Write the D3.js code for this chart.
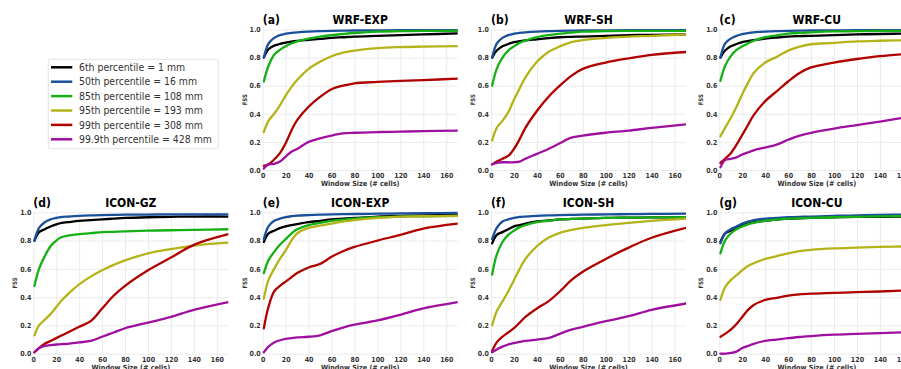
<!DOCTYPE html>
<html>
<head>
<meta charset="utf-8">
<script src="https://cdn.jsdelivr.net/npm/d3@7"></script>
<style>
  body { margin: 0; background: #fff; }
  text { font-family: "DejaVu Sans Condensed", "DejaVu Sans", sans-serif; }
</style>
</head>
<body>
<div id="chart"></div>
<script>
var windowSizes = [1, 5, 10, 15, 20, 25, 30, 40, 50, 60, 70, 80, 100, 120, 140, 170];

var percentileLabels = [
  "6th percentile = 1 mm",
  "50th percentile = 16 mm",
  "85th percentile = 108 mm",
  "95th percentile = 193 mm",
  "99th percentile = 308 mm",
  "99.9th percentile = 428 mm"
];
var lineColors = ["#000000", "#1a4f9a", "#14b014", "#b4b41a", "#b00000", "#a010a0"];

var xTicks = [0, 20, 40, 60, 80, 100, 120, 140, 160];
var yTicks = [0, 0.2, 0.4, 0.6, 0.8, 1.0];

// each model: six series, same order as the legend
var wrfExp = [
  [0.80, 0.86, 0.885, 0.897, 0.907, 0.914, 0.919, 0.926, 0.933, 0.94, 0.945, 0.95, 0.955, 0.96, 0.965, 0.972],
  [0.80, 0.90, 0.94, 0.96, 0.97, 0.976, 0.98, 0.985, 0.988, 0.99, 0.992, 0.993, 0.994, 0.995, 0.995, 0.995],
  [0.63, 0.74, 0.82, 0.855, 0.88, 0.90, 0.915, 0.935, 0.95, 0.96, 0.968, 0.975, 0.985, 0.988, 0.99, 0.99],
  [0.27, 0.35, 0.40, 0.46, 0.53, 0.59, 0.64, 0.72, 0.77, 0.81, 0.835, 0.85, 0.868, 0.875, 0.878, 0.882],
  [0.03, 0.04, 0.075, 0.12, 0.19, 0.28, 0.355, 0.45, 0.52, 0.575, 0.60, 0.617, 0.627, 0.635, 0.64, 0.65],
  [0.01, 0.04, 0.043, 0.06, 0.095, 0.13, 0.15, 0.20, 0.225, 0.245, 0.26, 0.265, 0.27, 0.273, 0.276, 0.28]
];
var wrfSh = [
  [0.80, 0.85, 0.88, 0.897, 0.91, 0.917, 0.922, 0.93, 0.938, 0.945, 0.948, 0.95, 0.955, 0.96, 0.962, 0.965],
  [0.80, 0.90, 0.94, 0.96, 0.97, 0.976, 0.98, 0.985, 0.988, 0.99, 0.992, 0.993, 0.994, 0.995, 0.995, 0.995],
  [0.60, 0.72, 0.80, 0.85, 0.88, 0.905, 0.92, 0.945, 0.96, 0.97, 0.978, 0.985, 0.988, 0.99, 0.99, 0.99],
  [0.21, 0.30, 0.35, 0.41, 0.50, 0.58, 0.66, 0.77, 0.84, 0.88, 0.91, 0.925, 0.94, 0.95, 0.955, 0.965],
  [0.04, 0.06, 0.08, 0.10, 0.15, 0.22, 0.30, 0.42, 0.52, 0.60, 0.67, 0.72, 0.765, 0.795, 0.82, 0.84],
  [0.04, 0.05, 0.055, 0.055, 0.055, 0.06, 0.08, 0.115, 0.15, 0.19, 0.23, 0.245, 0.265, 0.28, 0.30, 0.325]
];
var wrfCu = [
  [0.80, 0.85, 0.88, 0.897, 0.91, 0.918, 0.924, 0.935, 0.943, 0.95, 0.953, 0.955, 0.96, 0.965, 0.968, 0.972],
  [0.80, 0.90, 0.935, 0.955, 0.967, 0.975, 0.98, 0.985, 0.988, 0.99, 0.992, 0.993, 0.994, 0.995, 0.995, 0.995],
  [0.635, 0.74, 0.81, 0.855, 0.88, 0.90, 0.92, 0.945, 0.958, 0.97, 0.976, 0.98, 0.986, 0.988, 0.99, 0.99],
  [0.24, 0.30, 0.37, 0.45, 0.54, 0.62, 0.69, 0.765, 0.805, 0.85, 0.878, 0.895, 0.905, 0.915, 0.92, 0.925],
  [0.05, 0.08, 0.12, 0.18, 0.25, 0.32, 0.39, 0.49, 0.56, 0.63, 0.69, 0.73, 0.765, 0.79, 0.81, 0.83],
  [0.02, 0.07, 0.08, 0.09, 0.11, 0.125, 0.14, 0.16, 0.18, 0.215, 0.245, 0.265, 0.295, 0.32, 0.345, 0.385]
];
var iconGz = [
  [0.80, 0.86, 0.88, 0.90, 0.915, 0.925, 0.93, 0.94, 0.945, 0.95, 0.955, 0.96, 0.965, 0.968, 0.97, 0.97],
  [0.80, 0.89, 0.93, 0.95, 0.96, 0.967, 0.97, 0.975, 0.978, 0.98, 0.982, 0.983, 0.984, 0.985, 0.985, 0.985],
  [0.48, 0.60, 0.69, 0.76, 0.80, 0.825, 0.835, 0.845, 0.852, 0.86, 0.862, 0.865, 0.87, 0.873, 0.875, 0.88],
  [0.13, 0.20, 0.24, 0.28, 0.33, 0.38, 0.42, 0.49, 0.545, 0.59, 0.628, 0.66, 0.71, 0.74, 0.765, 0.785],
  [0.01, 0.04, 0.07, 0.09, 0.11, 0.13, 0.15, 0.19, 0.23, 0.32, 0.41, 0.48, 0.59, 0.68, 0.77, 0.845],
  [0.01, 0.04, 0.055, 0.06, 0.065, 0.068, 0.07, 0.08, 0.09, 0.12, 0.15, 0.18, 0.22, 0.26, 0.31, 0.365]
];
var iconExp = [
  [0.79, 0.85, 0.87, 0.888, 0.90, 0.91, 0.917, 0.93, 0.94, 0.95, 0.955, 0.96, 0.97, 0.975, 0.978, 0.98],
  [0.81, 0.90, 0.94, 0.955, 0.965, 0.972, 0.977, 0.98, 0.983, 0.985, 0.987, 0.988, 0.99, 0.992, 0.994, 0.995],
  [0.57, 0.66, 0.72, 0.77, 0.81, 0.85, 0.88, 0.91, 0.925, 0.94, 0.948, 0.955, 0.965, 0.97, 0.972, 0.975],
  [0.39, 0.52, 0.60, 0.67, 0.73, 0.80, 0.85, 0.89, 0.905, 0.92, 0.935, 0.945, 0.96, 0.97, 0.972, 0.975],
  [0.18, 0.33, 0.44, 0.48, 0.51, 0.54, 0.57, 0.61, 0.635, 0.685, 0.725, 0.755, 0.80, 0.84, 0.885, 0.92],
  [0.01, 0.05, 0.08, 0.095, 0.105, 0.11, 0.115, 0.12, 0.13, 0.16, 0.185, 0.205, 0.235, 0.275, 0.32, 0.365]
];
var iconSh = [
  [0.78, 0.84, 0.86, 0.88, 0.90, 0.91, 0.92, 0.935, 0.942, 0.95, 0.953, 0.955, 0.96, 0.962, 0.964, 0.965],
  [0.81, 0.89, 0.935, 0.95, 0.96, 0.967, 0.97, 0.975, 0.978, 0.98, 0.982, 0.983, 0.985, 0.987, 0.989, 0.99],
  [0.56, 0.70, 0.79, 0.84, 0.87, 0.895, 0.91, 0.93, 0.94, 0.95, 0.953, 0.955, 0.96, 0.962, 0.964, 0.965],
  [0.20, 0.30, 0.37, 0.44, 0.52, 0.60, 0.67, 0.76, 0.82, 0.855, 0.875, 0.89, 0.91, 0.925, 0.94, 0.955],
  [0.02, 0.08, 0.12, 0.15, 0.18, 0.22, 0.26, 0.32, 0.37, 0.44, 0.52, 0.58, 0.67, 0.75, 0.82, 0.89],
  [0.01, 0.03, 0.05, 0.065, 0.075, 0.083, 0.09, 0.10, 0.11, 0.14, 0.17, 0.19, 0.23, 0.265, 0.31, 0.355]
];
var iconCu = [
  [0.79, 0.85, 0.87, 0.89, 0.91, 0.92, 0.93, 0.94, 0.948, 0.955, 0.958, 0.96, 0.965, 0.967, 0.968, 0.97],
  [0.78, 0.85, 0.88, 0.90, 0.92, 0.935, 0.945, 0.955, 0.96, 0.965, 0.968, 0.97, 0.975, 0.978, 0.981, 0.985],
  [0.71, 0.80, 0.85, 0.88, 0.90, 0.915, 0.925, 0.94, 0.948, 0.955, 0.958, 0.96, 0.965, 0.968, 0.971, 0.975],
  [0.38, 0.47, 0.52, 0.555, 0.59, 0.62, 0.64, 0.67, 0.69, 0.71, 0.725, 0.735, 0.745, 0.75, 0.755, 0.76],
  [0.12, 0.14, 0.17, 0.21, 0.26, 0.31, 0.345, 0.38, 0.395, 0.41, 0.42, 0.425, 0.43, 0.435, 0.44, 0.45],
  [0.0, 0.0, 0.005, 0.015, 0.04, 0.055, 0.07, 0.09, 0.10, 0.11, 0.118, 0.125, 0.135, 0.14, 0.145, 0.155]
];

var panelTags = ["(a)", "(b)", "(c)", "(d)", "(e)", "(f)", "(g)"];
var panelTitles = ["WRF-EXP", "WRF-SH", "WRF-CU", "ICON-GZ", "ICON-EXP", "ICON-SH", "ICON-CU"];
var panelSeries = [wrfExp, wrfSh, wrfCu, iconGz, iconExp, iconSh, iconCu];

(function() {
  var width = 901, height = 369;

  var svg = d3.select("#chart").append("svg")
    .attr("width", width)
    .attr("height", height);

  // grid layout: columns left edges, rows top/bottom
  var colLeft = [33.3, 262.7, 491, 719.3];
  var plotW = 195;
  var rows = [{top: 29.5, bottom: 170}, {top: 212.3, bottom: 353.7}];
  // panel slots (row, col) -- top-left slot holds the legend
  var slots = [[0, 1], [0, 2], [0, 3], [1, 0], [1, 1], [1, 2], [1, 3]];

  var x = d3.scaleLinear().domain([0, 170]).range([0, plotW]);

  function styleAxis(a) {
    a.select(".domain").remove();
    a.selectAll(".tick line").attr("stroke", "#e6e6e6").attr("stroke-width", 0.8);
    a.selectAll(".tick text").attr("fill", "#333").attr("font-size", 7).attr("font-weight", "bold")
      .attr("font-family", '"DejaVu Sans Condensed", "DejaVu Sans", sans-serif');
  }

  panelSeries.forEach(function(series, i) {
    var r = rows[slots[i][0]];
    var left = colLeft[slots[i][1]];
    var h = r.bottom - r.top;
    var y = d3.scaleLinear().domain([0, 1]).range([h, 0]);

    var g = svg.append("g").attr("transform", "translate(" + left + "," + r.top + ")");

    // light grid, no spines
    g.append("g")
      .attr("transform", "translate(0," + h + ")")
      .call(d3.axisBottom(x).tickValues(xTicks).tickSize(-h).tickPadding(3).tickFormat(d3.format("d")))
      .call(styleAxis);

    g.append("g")
      .call(d3.axisLeft(y).tickValues(yTicks).tickSize(-plotW).tickPadding(2).tickFormat(d3.format(".1f")))
      .call(styleAxis);

    var clipId = "clip" + i;
    g.append("clipPath").attr("id", clipId)
      .append("rect").attr("x", -2).attr("y", -2).attr("width", plotW + 2).attr("height", h + 4);

    var line = d3.line()
      .x(function(d, k) { return x(windowSizes[k]); })
      .y(function(d) { return y(d); })
      .curve(d3.curveCatmullRom.alpha(0.5));

    g.append("g").attr("clip-path", "url(#" + clipId + ")")
      .selectAll("path")
      .data(series)
      .enter().append("path")
      .attr("d", line)
      .attr("fill", "none")
      .attr("stroke", function(d, k) { return lineColors[k]; })
      .attr("stroke-width", 2.3)
      .attr("stroke-linecap", "round")
      .attr("stroke-linejoin", "round");

    // titles
    g.append("text")
      .attr("x", 0).attr("y", -5.5)
      .attr("font-size", 12).attr("font-weight", "bold")
      .text(panelTags[i]);
    g.append("text")
      .attr("x", plotW / 2).attr("y", -5.5)
      .attr("text-anchor", "middle")
      .attr("font-size", 12).attr("font-weight", "bold")
      .text(panelTitles[i]);

    // axis labels
    g.append("text")
      .attr("x", plotW / 2).attr("y", h + 16.3)
      .attr("text-anchor", "middle")
      .attr("font-size", 7.2).attr("font-weight", "bold").attr("fill", "#333")
      .text("Window Size (# cells)");
    g.append("text")
      .attr("transform", "translate(-16," + (h / 2) + ") rotate(-90)")
      .attr("text-anchor", "middle")
      .attr("font-size", 6).attr("font-weight", "bold").attr("fill", "#333")
      .text("FSS");
  });

  // legend in the empty top-left slot
  var leg = svg.append("g").attr("transform", "translate(48.3,59.3)");
  leg.append("rect")
    .attr("width", 170).attr("height", 89.4)
    .attr("rx", 2)
    .attr("fill", "#fff")
    .attr("stroke", "#dcdcdc")
    .attr("stroke-width", 0.8);

  var items = leg.selectAll(".item")
    .data(percentileLabels)
    .enter().append("g")
    .attr("class", "item")
    .attr("transform", function(d, k) { return "translate(0," + (8 + k * 14.4) + ")"; });

  items.append("line")
    .attr("x1", 2.7).attr("x2", 24)
    .attr("stroke", function(d, k) { return lineColors[k]; })
    .attr("stroke-width", 2.5);

  items.append("text")
    .attr("x", 30.7).attr("dy", "0.35em")
    .attr("font-size", 10.4).attr("fill", "#333")
    .text(function(d) { return d; });
})();
</script>
</body>
</html>
